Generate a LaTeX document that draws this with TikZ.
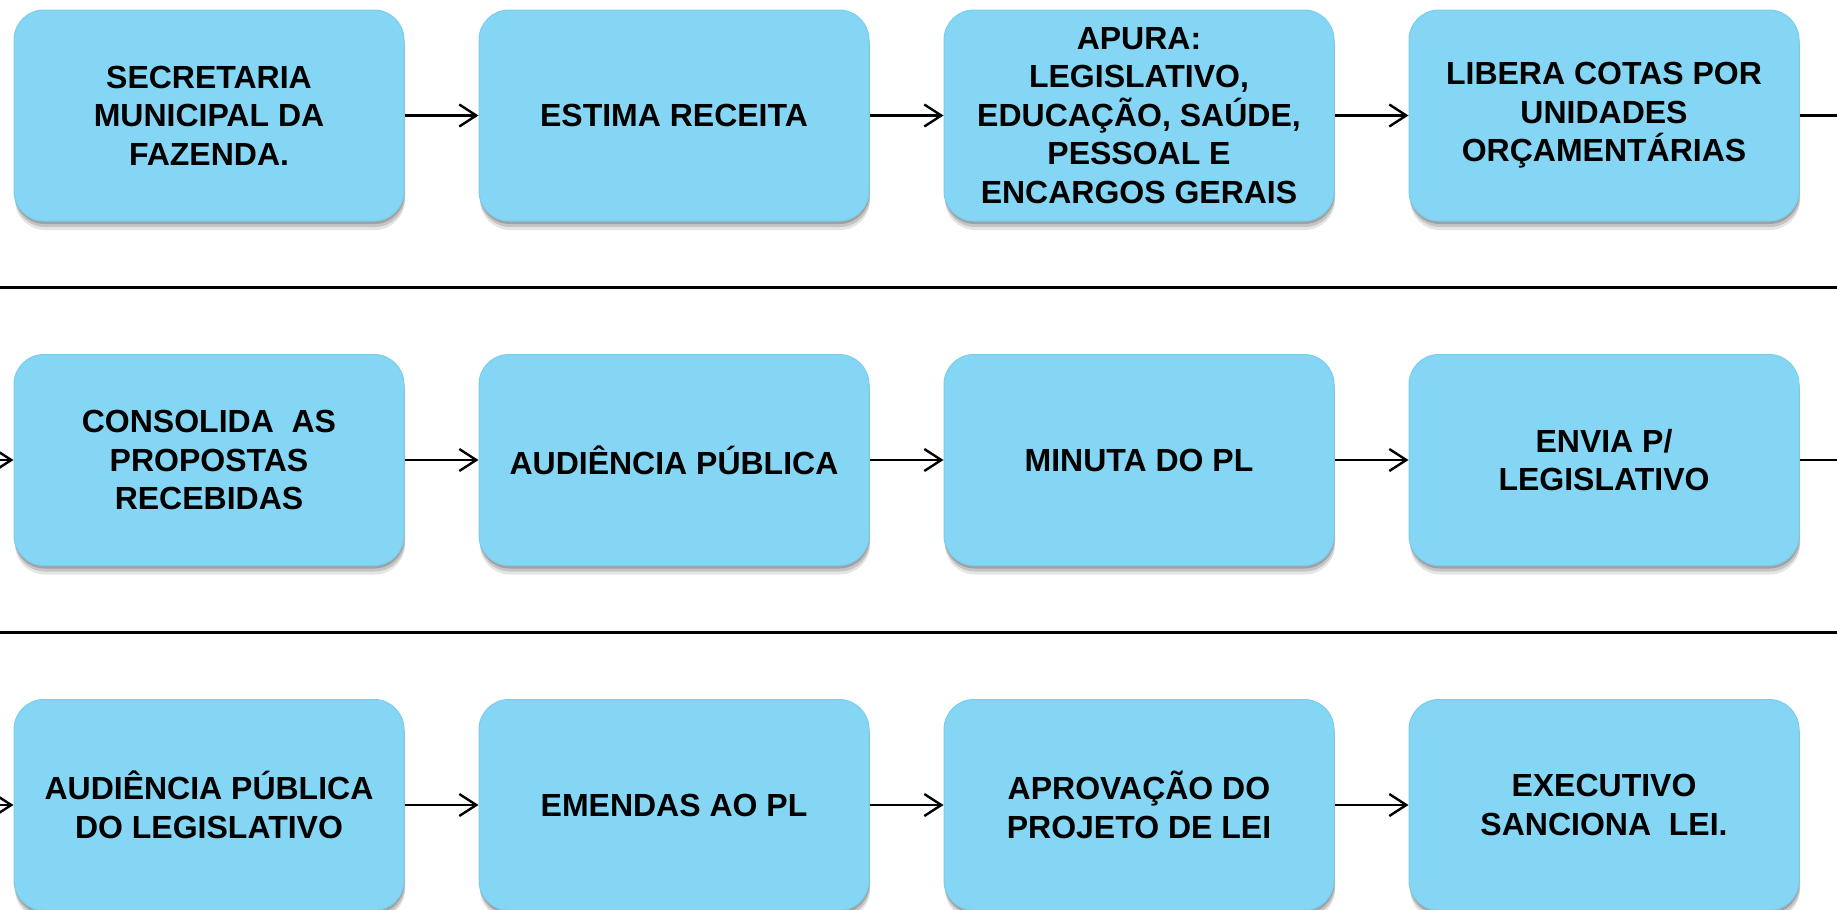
\documentclass[tikz,border=0pt]{standalone}
\usepackage{fontspec}
\setmainfont{Liberation Sans}
\usetikzlibrary{arrows.meta,shadows}
\definecolor{boxblue}{HTML}{84D6F4}
\definecolor{boxedge}{HTML}{7ACDEC}
\tikzset{
  procbox/.style={rectangle, rounded corners=30pt, fill=boxblue, draw=boxedge, line width=1pt,
    minimum width=390pt, minimum height=211pt, inner sep=0pt, align=center,
    font=\fontsize{32}{38.5}\selectfont\bfseries, text=black,
    drop shadow={shadow xshift=1pt, shadow yshift=-9pt, fill=black, opacity=0.10},
    drop shadow={shadow xshift=1pt, shadow yshift=-6pt, fill=black, opacity=0.14},
    drop shadow={shadow xshift=0.5pt, shadow yshift=-3pt, fill=black, opacity=0.18}},
  flow/.style={line width=2.4pt, -{Straight Barb[length=17pt,width=22pt,line width=2.4pt]}},
  plainline/.style={line width=2.4pt},
  rule/.style={line width=3pt}
}
\begin{document}
\begin{tikzpicture}[x=1pt,y=-1pt]
\useasboundingbox (0,0) rectangle (1837,910);
% separators
\coordinate (r1l) at (0,287); \coordinate (r1r) at (1837,287);
\coordinate (r2l) at (0,632); \coordinate (r2r) at (1837,632);
\draw[rule] (r1l) -- (r1r);
\draw[rule] (r2l) -- (r2r);
% row 1
\node[procbox] (a1) at (209,115.5) {SECRETARIA\\MUNICIPAL DA\\FAZENDA.};
\node[procbox] (a2) at (674,115.5) {ESTIMA RECEITA};
\node[procbox] (a3) at (1139,115.5) {APURA:\\LEGISLATIVO,\\EDUCAÇÃO, SAÚDE,\\PESSOAL E\\ENCARGOS GERAIS};
\node[procbox] (a4) at (1604,115.5) {LIBERA COTAS POR\\UNIDADES\\ORÇAMENTÁRIAS};
% row 2
\node[procbox] (b1) at (209,460) {CONSOLIDA\ \ AS\\PROPOSTAS\\RECEBIDAS};
\node[procbox] (b2) at (674,460) {AUDIÊNCIA PÚBLICA};
\node[procbox] (b3) at (1139,460) {MINUTA DO PL};
\node[procbox] (b4) at (1604,460) {ENVIA P/\\LEGISLATIVO};
% row 3
\node[procbox] (c1) at (209,805) {AUDIÊNCIA PÚBLICA\\DO LEGISLATIVO};
\node[procbox] (c2) at (674,805) {EMENDAS AO PL};
\node[procbox] (c3) at (1139,805) {APROVAÇÃO DO\\PROJETO DE LEI};
\node[procbox] (c4) at (1604,805) {EXECUTIVO\\SANCIONA\ \ LEI.};
% connectors
\draw[flow] (a1) -- (a2);
\draw[flow] (a2) -- (a3);
\draw[flow] (a3) -- (a4);
\coordinate (a4out) at (1837,115.5);
\draw[plainline] (a4.east) -- (a4out);
\coordinate (b1in) at (0,460);
\draw[flow] (b1in) -- (b1.west);
\draw[flow] (b1) -- (b2);
\draw[flow] (b2) -- (b3);
\draw[flow] (b3) -- (b4);
\coordinate (b4out) at (1837,460);
\draw[plainline] (b4.east) -- (b4out);
\coordinate (c1in) at (0,805);
\draw[flow] (c1in) -- (c1.west);
\draw[flow] (c1) -- (c2);
\draw[flow] (c2) -- (c3);
\draw[flow] (c3) -- (c4);
\end{tikzpicture}
\end{document}
